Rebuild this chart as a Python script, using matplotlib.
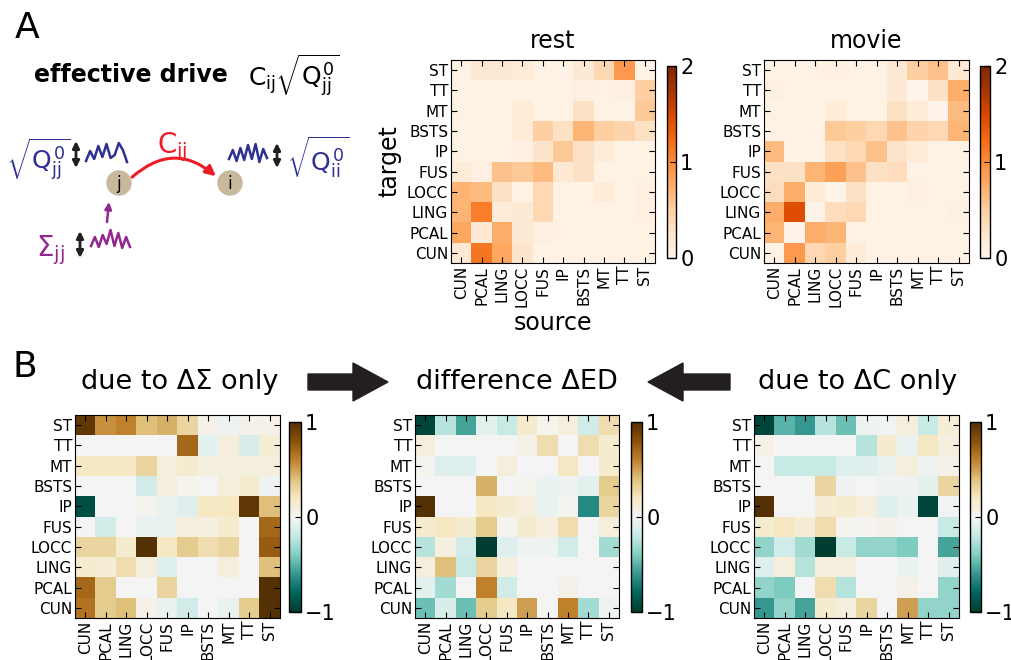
import numpy as np
import matplotlib
matplotlib.use("Agg")
import matplotlib.pyplot as plt
from matplotlib.patches import Circle, FancyArrow, FancyArrowPatch

plt.rcParams['font.family'] = ['DejaVu Sans']
plt.rcParams['mathtext.fontset'] = 'custom'
plt.rcParams['mathtext.rm'] = 'DejaVu Sans'
plt.rcParams['mathtext.it'] = 'DejaVu Sans'
plt.rcParams['mathtext.bf'] = 'DejaVu Sans:bold'
plt.rcParams['xtick.direction'] = 'in'
plt.rcParams['ytick.direction'] = 'in'

# region labels, source (columns) left->right, target (rows) bottom->top
regions = ['CUN', 'PCAL', 'LING', 'LOCC', 'FUS', 'IP', 'BSTS', 'MT', 'TT', 'ST']

# matrices written as seen: first row = ST (top), last row = CUN (bottom)
rest = [
    [0.05, 0.20, 0.20, 0.15, 0.05, 0.05, 0.20, 0.40, 0.90, 0.05],
    [0.05, 0.05, 0.05, 0.05, 0.05, 0.05, 0.10, 0.05, 0.10, 0.50],
    [0.05, 0.05, 0.05, 0.15, 0.05, 0.05, 0.30, 0.05, 0.05, 0.55],
    [0.05, 0.05, 0.05, 0.15, 0.50, 0.30, 0.70, 0.50, 0.45, 0.30],
    [0.05, 0.05, 0.05, 0.10, 0.25, 0.55, 0.30, 0.15, 0.05, 0.05],
    [0.15, 0.10, 0.60, 0.55, 0.65, 0.20, 0.30, 0.05, 0.05, 0.05],
    [0.70, 0.65, 0.30, 0.05, 0.40, 0.05, 0.05, 0.15, 0.05, 0.10],
    [0.70, 1.10, 0.15, 0.20, 0.40, 0.05, 0.05, 0.05, 0.05, 0.10],
    [0.80, 0.20, 0.75, 0.20, 0.10, 0.05, 0.05, 0.05, 0.05, 0.05],
    [0.20, 1.15, 0.80, 0.25, 0.05, 0.05, 0.05, 0.05, 0.05, 0.05],
]

movie = [
    [0.05, 0.05, 0.05, 0.10, 0.05, 0.05, 0.20, 0.50, 0.60, 0.20],
    [0.08, 0.05, 0.05, 0.05, 0.05, 0.05, 0.20, 0.02, 0.30, 0.75],
    [0.05, 0.05, 0.05, 0.15, 0.05, 0.05, 0.30, 0.15, 0.03, 0.65],
    [0.05, 0.05, 0.05, 0.55, 0.50, 0.40, 0.60, 0.45, 0.40, 0.70],
    [0.65, 0.05, 0.05, 0.30, 0.40, 0.60, 0.25, 0.15, 0.05, 0.05],
    [0.30, 0.30, 0.70, 0.85, 0.60, 0.30, 0.35, 0.05, 0.05, 0.05],
    [0.35, 0.75, 0.15, 0.03, 0.30, 0.05, 0.05, 0.08, 0.05, 0.05],
    [0.75, 1.45, 0.03, 0.35, 0.40, 0.05, 0.05, 0.05, 0.05, 0.08],
    [0.70, 0.03, 0.75, 0.70, 0.05, 0.05, 0.05, 0.05, 0.05, 0.05],
    [0.05, 0.90, 0.40, 0.50, 0.15, 0.05, 0.05, 0.05, 0.05, 0.05],
]

d_sigma = [
    [0.95, 0.55, 0.60, 0.40, 0.45, 0.30, 0.05, -0.03, 0.05, 0.05],
    [0.00, 0.00, 0.00, 0.00, 0.00, 0.70, -0.08, 0.10, -0.12, 0.12],
    [0.20, 0.20, 0.20, 0.30, 0.10, 0.15, 0.08, 0.08, 0.08, 0.10],
    [0.00, 0.00, 0.00, -0.15, 0.10, 0.03, 0.00, 0.10, 0.15, -0.03],
    [-0.90, 0.00, 0.00, 0.03, -0.05, -0.10, 0.20, 0.20, 0.95, 0.40],
    [0.00, -0.15, 0.00, -0.05, -0.05, 0.10, 0.08, 0.15, 0.00, 0.70],
    [0.30, 0.30, 0.15, 1.00, 0.20, 0.35, 0.25, 0.30, 0.00, 0.75],
    [0.15, 0.12, 0.25, 0.10, -0.10, 0.00, 0.00, 0.10, 0.00, 0.40],
    [0.70, 0.35, 0.00, 0.00, 0.30, 0.00, 0.00, 0.00, 0.00, 1.00],
    [0.65, 0.35, 0.40, 0.05, -0.05, -0.15, 0.00, -0.05, 0.35, 1.00],
]

d_ed = [
    [-0.95, -0.25, -0.55, -0.08, -0.20, 0.15, 0.03, 0.10, -0.15, 0.25],
    [0.10, 0.00, 0.00, 0.00, 0.00, 0.05, 0.25, 0.00, 0.25, 0.15],
    [0.03, -0.10, -0.10, 0.00, 0.10, 0.00, 0.00, 0.20, 0.00, 0.15],
    [0.00, 0.00, 0.00, 0.45, 0.00, 0.03, -0.05, -0.03, -0.08, 0.35],
    [1.00, 0.00, 0.00, 0.20, 0.15, 0.10, -0.05, 0.03, -0.65, 0.30],
    [0.15, 0.20, 0.15, 0.35, 0.02, 0.15, 0.10, 0.25, 0.00, 0.10],
    [-0.25, 0.08, -0.15, -1.00, -0.10, -0.03, -0.03, -0.15, 0.00, -0.30],
    [0.10, 0.40, -0.20, 0.30, 0.08, 0.00, 0.00, 0.00, 0.00, 0.00],
    [-0.08, -0.30, 0.00, 0.60, -0.15, 0.00, 0.00, 0.05, 0.00, 0.00],
    [-0.45, -0.12, -0.45, 0.35, 0.20, 0.50, 0.00, 0.60, -0.30, -0.03],
]

d_c = [
    [-0.95, -0.50, -0.60, -0.25, -0.45, -0.03, -0.02, 0.10, -0.20, 0.12],
    [0.05, 0.00, 0.00, 0.00, 0.00, -0.25, 0.15, -0.05, 0.20, 0.08],
    [0.00, -0.20, -0.20, -0.20, -0.10, -0.10, -0.05, 0.10, -0.03, 0.05],
    [0.00, 0.00, 0.00, 0.30, -0.03, 0.00, -0.03, -0.03, -0.08, 0.30],
    [1.00, 0.00, 0.00, 0.12, 0.15, 0.10, -0.10, -0.05, -0.95, -0.02],
    [0.15, 0.20, 0.12, 0.25, 0.02, 0.02, 0.05, 0.00, 0.00, -0.20],
    [-0.35, -0.15, -0.30, -1.00, -0.20, -0.35, -0.35, -0.40, 0.00, -0.55],
    [-0.10, 0.10, -0.25, 0.10, 0.10, 0.00, 0.00, -0.05, 0.00, -0.10],
    [-0.35, -0.40, 0.00, 0.25, -0.25, 0.00, 0.00, 0.05, 0.00, -0.35],
    [-0.60, -0.35, -0.55, 0.15, 0.10, 0.30, 0.00, 0.50, -0.35, -0.35],
]

# hand-drawn noise traces for the schematic (pixel offsets)
wiggle_left = [8, -2, 6, -7, 4, -9, 5, 2, -10, -3, 9]
wiggle_right = [5, -4, 7, -6, 6, -9, 5, -10, 8, -5, 4]
wiggle_sigma = [6, -3, 7, -5, 4, -10, 6, -7, 8, -3, 7]

W, H = 1011, 660
fig = plt.figure(figsize=(W / 100, H / 100), dpi=100)


def px_axes(x0, y0, x1, y1):
    return fig.add_axes([x0 / W, 1 - y1 / H, (x1 - x0) / W, (y1 - y0) / H])


def heatmap(box, cbox, data, cmap, vmin, vmax, cticks):
    ax = px_axes(*box)
    im = ax.imshow(np.array(data)[::-1], cmap=cmap, vmin=vmin, vmax=vmax,
                   origin='lower', interpolation='nearest', aspect='auto')
    ax.set_xticks(range(len(regions)))
    ax.set_yticks(range(len(regions)))
    ax.set_xticklabels(regions, rotation=90, fontsize=11)
    ax.set_yticklabels(regions, fontsize=11)
    ax.tick_params(top=True, right=True, length=4, width=0.8, pad=2)
    cax = px_axes(*cbox)
    cb = fig.colorbar(im, cax=cax, ticks=cticks)
    cax.tick_params(labelsize=15, length=4, direction='in', pad=3)
    cb.outline.set_linewidth(1)
    return ax


# ---- panel A heatmaps
ax_rest = heatmap((451, 60, 655, 263), (667, 66, 676, 258), rest, 'Oranges', 0, 2, [0, 1, 2])
ax_rest.set_title('rest', fontsize=17, pad=9)
ax_rest.set_ylabel('target', fontsize=17, labelpad=4)
ax_rest.set_xlabel('source', fontsize=17, labelpad=3)

ax_movie = heatmap((764, 60, 969, 263), (980, 66, 990, 258), movie, 'Oranges', 0, 2, [0, 1, 2])
ax_movie.set_title('movie', fontsize=17, pad=9)

# ---- panel B heatmaps
heatmap((75, 415, 280, 618), (289, 422, 301, 612), d_sigma, 'BrBG_r', -1, 1, [-1, 0, 1])
heatmap((415, 415, 619, 618), (631, 422, 642, 612), d_ed, 'BrBG_r', -1, 1, [-1, 0, 1])
heatmap((754, 415, 959, 618), (970, 422, 981, 612), d_c, 'BrBG_r', -1, 1, [-1, 0, 1])

# ---- overlay in pixel coordinates for schematic and annotations
ov = fig.add_axes([0, 0, 1, 1], zorder=-1)
ov.set_xlim(0, W)
ov.set_ylim(H, 0)
ov.axis('off')

ov.text(15, 38, 'A', fontsize=26)
ov.text(12, 377, 'B', fontsize=26)

navy = '#2e3192'
purple = '#92278f'
red = '#ed1c24'

ov.text(34, 82, 'effective drive', fontsize=17, fontweight='bold')
ov.text(248, 86, r'$C_{ij}\sqrt{Q^0_{jj}}$', fontsize=18)

# nodes
for cx, lab in [(119, 'j'), (230, 'i')]:
    ov.add_patch(Circle((cx, 183), 12, color='#c8b89c', zorder=2))
    ov.text(cx, 184, lab, fontsize=12, ha='center', va='center', zorder=3)

# coupling arrow
ov.add_patch(FancyArrowPatch((130, 179), (218, 178), connectionstyle='arc3,rad=-0.45',
                             arrowstyle='-|>', mutation_scale=15, lw=2.2, color=red))
ov.text(157, 153, r'$C_{ij}$', fontsize=20, color=red)

# noise traces
xs = np.linspace(86, 127, len(wiggle_left))
ov.plot(xs, 153 + np.array(wiggle_left), color=navy, lw=1.8)
xs = np.linspace(229, 267, len(wiggle_right))
ov.plot(xs, 154 + np.array(wiggle_right), color=navy, lw=1.8)
xs = np.linspace(91, 130, len(wiggle_sigma))
ov.plot(xs, 240 + np.array(wiggle_sigma), color=purple, lw=1.8)

for x, y0, y1 in [(76, 141, 168), (277, 143, 168), (80, 231, 258)]:
    ov.annotate('', xy=(x, y0), xytext=(x, y1),
                arrowprops=dict(arrowstyle='<|-|>', mutation_scale=10, lw=2, color='#231f20',
                                shrinkA=0, shrinkB=0))

ov.text(6, 170, r'$\sqrt{Q^0_{jj}}$', fontsize=18, color=navy)
ov.text(287, 172, r'$\sqrt{Q^0_{ii}}$', fontsize=18, color=navy)

ov.annotate('', xy=(109, 202), xytext=(107, 222),
            arrowprops=dict(arrowstyle='-|>', mutation_scale=10, lw=1.8, color=purple,
                            shrinkA=0, shrinkB=0))
ov.text(36, 256, r'$\Sigma_{jj}$', fontsize=20, color=purple)

# panel B headings and arrows
ov.text(180, 382, 'due to ΔΣ only', fontsize=19.5, ha='center', va='center')
ov.text(517, 382, 'difference ΔED', fontsize=19.5, ha='center', va='center')
ov.text(858, 382, 'due to ΔC only', fontsize=19.5, ha='center', va='center')
ov.add_patch(FancyArrow(308, 382, 80, 0, width=16, head_width=38, head_length=35,
                        length_includes_head=True, color='#231f20'))
ov.add_patch(FancyArrow(730, 382, -82, 0, width=16, head_width=38, head_length=35,
                        length_includes_head=True, color='#231f20'))

fig.savefig('out.png', dpi=100)
